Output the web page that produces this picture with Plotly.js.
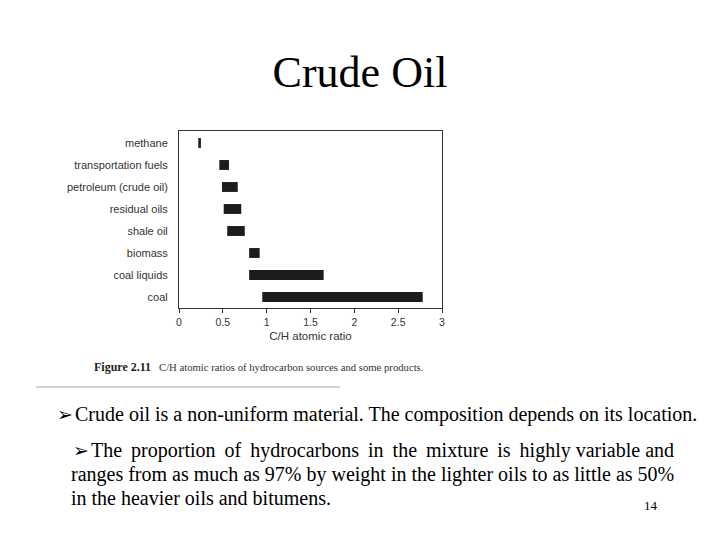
<!DOCTYPE html>
<html>
<head>
<meta charset="utf-8">
<script src="https://cdn.plot.ly/plotly-3.0.1.min.js"></script>
<style>html,body{margin:0;padding:0;background:#fff;}#chart{width:720px;height:540px;}</style>
</head>
<body>
<div id="chart"></div>
<script>
// ---- data ----
const categories = ["methane", "transportation fuels", "petroleum (crude oil)", "residual oils", "shale oil", "biomass", "coal liquids", "coal"];
const lowValues  = [0.22, 0.46, 0.49, 0.51, 0.55, 0.80, 0.80, 0.95];
const highValues = [0.25, 0.57, 0.67, 0.71, 0.75, 0.92, 1.65, 2.78];
const xTickValues = [0, 0.5, 1, 1.5, 2, 2.5, 3];
const xTickLabels = ["0", "0.5", "1", "1.5", "2", "2.5", "3"];

const slideTitle = "Crude Oil";
const xAxisTitle = "C/H atomic ratio";
const captionLabel = "Figure 2.11";
const captionText = "C/H atomic ratios of hydrocarbon sources and some products.";
const bulletMark = "\u27A2";
const bullet1 = "Crude oil is a non-uniform material. The composition depends on its location.";
const bullet2Line1Words = ["The", "proportion", "of", "hydrocarbons", "in", "the", "mixture", "is", "highly", "variable", "and"];
const bullet2Lines = [
  bullet2Line1Words.map((w, i) => (i === 0 ? "" : (i < 9 ? " \u2009" : " ")) + w).join(""),
  "ranges from as much as 97% by weight in the lighter oils to as little as 50%",
  "in the heavier oils and bitumens."
];
const pageNumber = "14";

// ---- layout helpers (plot area in pixels) ----
const L = 179, R = 442, T = 131, B = 308;
const px = x => (x - L) / (R - L);
const py = y => (B - y) / (B - T);

const widths = highValues.map((h, i) => h - lowValues[i]);

const trace = {
  type: "bar",
  orientation: "h",
  y: categories,
  x: widths,
  base: lowValues,
  width: 0.45,
  marker: {color: "#1c1c1c", line: {width: 0}},
  hoverinfo: "skip"
};

const serif = "Liberation Serif, Times New Roman, serif";
const sans = "Liberation Sans, Arial, sans-serif";

function note(text, x, y, font, xanchor) {
  return {text: text, x: px(x), y: py(y), xanchor: xanchor || "left", yanchor: "middle",
          font: font, showarrow: false, xref: "paper", yref: "paper"};
}
const bodyFont = {family: serif, size: 20, color: "#000"};
const markFont = {family: "DejaVu Sans, sans-serif", size: 19, color: "#000"};

const annotations = [
  note("<b>" + captionLabel + "</b>", 92, 367, {family: serif, size: 12, color: "#222"}),
  note(captionText, 157, 367, {family: serif, size: 10.7, color: "#333"}),
  note(bulletMark, 55, 414, markFont),
  note(bullet1, 73, 414, bodyFont),
  note(bulletMark, 71, 450, markFont),
  note(bullet2Lines[0], 89, 450, bodyFont),
  note(bullet2Lines[1], 69, 474, bodyFont),
  note(bullet2Lines[2], 69, 498, bodyFont),
  note(pageNumber, 651, 505, {family: serif, size: 13, color: "#000"}, "center")
];

const layout = {
  width: 720, height: 540,
  margin: {l: L, r: 720 - R, t: T, b: 540 - B, pad: 0},
  paper_bgcolor: "#fff", plot_bgcolor: "#fff",
  showlegend: false,
  title: {text: slideTitle, font: {family: serif, size: 44, color: "#000"},
          x: 0.5, xref: "container", xanchor: "center", y: 1 - 72 / 540, yref: "container", yanchor: "middle"},
  xaxis: {
    range: [0, 3], tickvals: xTickValues, ticktext: xTickLabels,
    showgrid: false, zeroline: false,
    showline: true, mirror: true, linecolor: "#333", linewidth: 1,
    ticks: "outside", ticklen: 4, tickcolor: "#333",
    tickfont: {family: sans, size: 10.5, color: "#333"},
    title: {text: xAxisTitle, font: {family: sans, size: 11.5, color: "#333"}, standoff: 5}
  },
  yaxis: {
    type: "category", range: [7.5, -0.545],
    showgrid: false, zeroline: false,
    showline: true, mirror: true, linecolor: "#333", linewidth: 1,
    ticks: "", ticklabelstandoff: 8,
    tickfont: {family: sans, size: 11, color: "#333"}
  },
  shapes: [
    {type: "line", xref: "paper", yref: "paper", x0: px(36), x1: px(340), y0: py(387), y1: py(387),
     line: {color: "#aaa", width: 1}}
  ],
  annotations: annotations
};

Plotly.newPlot("chart", [trace], layout, {staticPlot: true, displayModeBar: false});
</script>
</body>
</html>
